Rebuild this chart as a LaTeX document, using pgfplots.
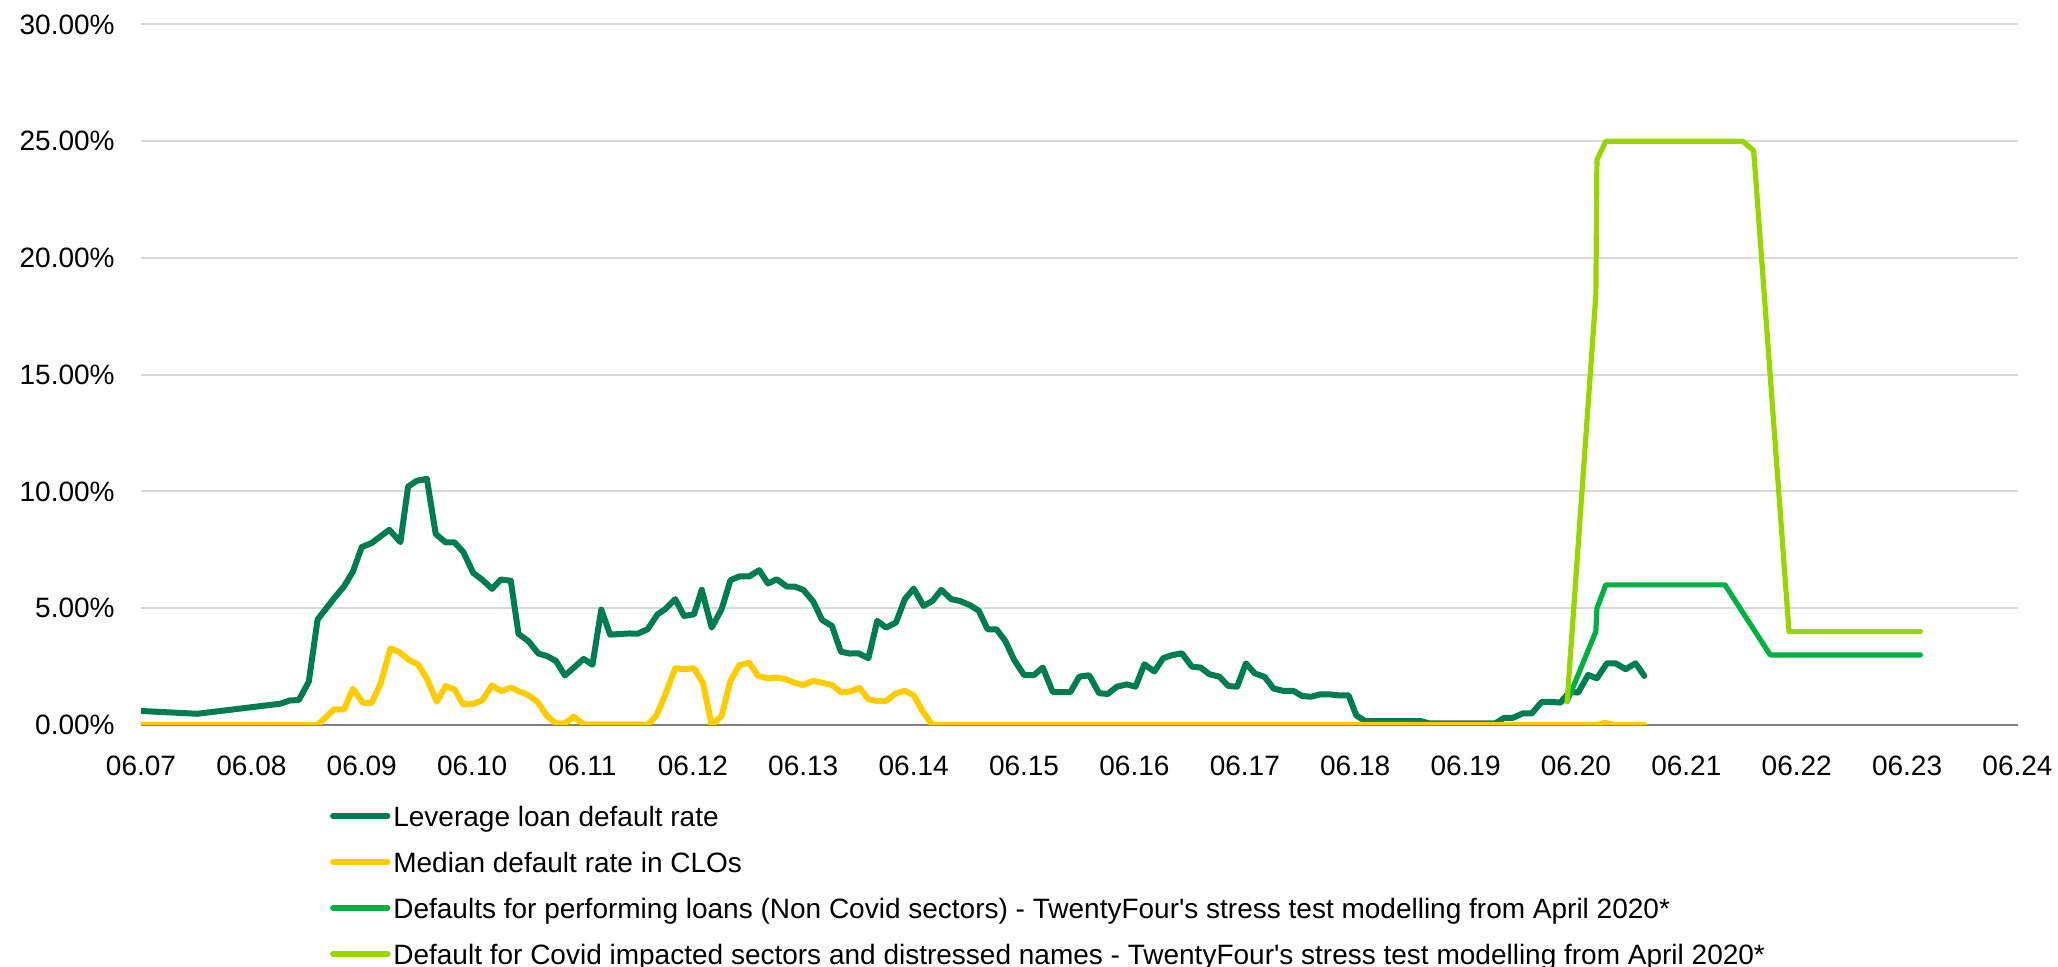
\documentclass[border=0pt]{standalone}
\usepackage{fontspec}
\setmainfont{Liberation Sans}[Ligatures=TeXOff]
\usepackage{pgfplots}
\pgfplotsset{compat=1.18}
\definecolor{levc}{RGB}{0,125,80}
\definecolor{cloc}{RGB}{255,204,0}
\definecolor{perfc}{RGB}{0,176,64}
\definecolor{covc}{RGB}{153,214,0}
\definecolor{gridc}{RGB}{217,217,217}
\definecolor{basec}{RGB}{128,128,128}
\begin{document}
\begin{tikzpicture}
\useasboundingbox (-70.5pt,-121pt) rectangle (958.5pt,362.5pt);
\begin{axis}[
  at={(0pt,0pt)}, anchor=south west,
  scale only axis, width=938.25pt, height=350.25pt,
  xmin=2007, xmax=2024, ymin=0, ymax=30,
  xtick={2007,2008,...,2024},
  xticklabels={06.07,06.08,06.09,06.10,06.11,06.12,06.13,06.14,06.15,06.16,06.17,06.18,06.19,06.20,06.21,06.22,06.23,06.24},
  ytick={0,5,...,30},
  yticklabel={\pgfmathprintnumber[fixed,fixed zerofill,precision=2]{\tick}\%},
  /pgf/number format/assume math mode=true,
  axis line style={draw=none},
  major tick length=0pt,
  ymajorgrids,
  grid style={draw=gridc, line width=1pt},
  extra y ticks={0}, extra y tick labels={},
  extra y tick style={grid style={draw=basec, line width=1pt}},
  tick label style={font=\fontsize{14}{17}\selectfont},
  xticklabel style={inner sep=0pt, anchor=north, yshift=-15.5pt},
  yticklabel style={inner sep=0pt, anchor=east, xshift=-13pt},
  legend style={at={(0.1008,-0.1071)}, anchor=north west, draw=none, fill=none,
    inner sep=0pt, outer sep=0pt, row sep=7pt, column sep=1.5pt,
    font=\fontsize{14}{17}\selectfont,
    nodes={inner sep=0pt, text height=13pt, text depth=3pt}},
  legend cell align=left,
  legend image code/.code={\draw[#1, line width=2.6pt, line cap=round] (0pt,0pt) -- (27.5pt,0pt);},
]
\addplot[levc, line width=3pt, line join=round, line cap=round] coordinates {
(2007.00,0.60) (2007.51,0.48) (2008.26,0.91) (2008.35,1.05) (2008.43,1.07)
(2008.52,1.85) (2008.60,4.52) (2008.75,5.43) (2008.84,5.94) (2008.92,6.57)
(2009.00,7.62) (2009.09,7.79) (2009.17,8.08) (2009.25,8.36) (2009.35,7.83)
(2009.42,10.21) (2009.50,10.46) (2009.59,10.54) (2009.67,8.18) (2009.76,7.82)
(2009.84,7.82) (2009.92,7.41) (2010.01,6.51) (2010.09,6.23) (2010.18,5.83)
(2010.26,6.23) (2010.35,6.18) (2010.42,3.90) (2010.51,3.59) (2010.60,3.06)
(2010.68,2.95) (2010.76,2.74) (2010.84,2.12) (2010.92,2.45) (2011.01,2.83)
(2011.09,2.58) (2011.17,4.94) (2011.25,3.87) (2011.42,3.92) (2011.50,3.91)
(2011.59,4.10) (2011.68,4.74) (2011.75,4.96) (2011.84,5.39) (2011.92,4.67)
(2012.01,4.74) (2012.08,5.79) (2012.17,4.17) (2012.26,4.96) (2012.34,6.20)
(2012.42,6.36) (2012.51,6.36) (2012.60,6.63) (2012.68,6.06) (2012.76,6.24)
(2012.85,5.93) (2012.92,5.93) (2013.00,5.79) (2013.09,5.29) (2013.17,4.50)
(2013.26,4.24) (2013.34,3.14) (2013.42,3.06) (2013.50,3.07) (2013.59,2.86)
(2013.67,4.46) (2013.75,4.17) (2013.84,4.39) (2013.92,5.39) (2014.00,5.84)
(2014.09,5.10) (2014.17,5.31) (2014.25,5.79) (2014.34,5.39) (2014.42,5.31)
(2014.51,5.13) (2014.59,4.89) (2014.67,4.10) (2014.75,4.10) (2014.83,3.60)
(2014.91,2.79) (2015.00,2.14) (2015.09,2.14) (2015.17,2.46) (2015.26,1.41)
(2015.42,1.41) (2015.50,2.07) (2015.59,2.13) (2015.68,1.36) (2015.76,1.33)
(2015.84,1.64) (2015.93,1.74) (2016.01,1.64) (2016.09,2.60) (2016.18,2.29)
(2016.26,2.86) (2016.34,2.99) (2016.43,3.07) (2016.52,2.50) (2016.60,2.46)
(2016.68,2.17) (2016.77,2.07) (2016.85,1.67) (2016.93,1.64) (2017.01,2.64)
(2017.09,2.21) (2017.18,2.06) (2017.26,1.56) (2017.35,1.46) (2017.44,1.46)
(2017.52,1.24) (2017.60,1.21) (2017.68,1.31) (2017.77,1.31) (2017.85,1.27)
(2017.94,1.27) (2018.01,0.41) (2018.09,0.17) (2018.59,0.17) (2018.67,0.07)
(2019.27,0.07) (2019.35,0.31) (2019.43,0.31) (2019.52,0.50) (2019.60,0.50)
(2019.69,0.99) (2019.77,0.99) (2019.86,0.96) (2019.94,1.41) (2020.02,1.39)
(2020.11,2.14) (2020.19,2.00) (2020.28,2.64) (2020.36,2.64) (2020.45,2.39)
(2020.54,2.64) (2020.62,2.10)
};
\addlegendentry{Leverage loan default rate}
\addplot[cloc, line width=3pt, line join=round, line cap=round] coordinates {
(2007.00,0) (2008.60,0) (2008.75,0.67) (2008.84,0.67) (2008.92,1.55)
(2009.01,0.95) (2009.09,0.95) (2009.17,1.77) (2009.26,3.28) (2009.34,3.12)
(2009.43,2.78) (2009.51,2.59) (2009.59,1.98) (2009.68,1.00) (2009.76,1.67)
(2009.84,1.52) (2009.92,0.88) (2010.01,0.91) (2010.09,1.05) (2010.18,1.70)
(2010.26,1.45) (2010.35,1.60) (2010.42,1.45) (2010.51,1.28) (2010.59,1.00)
(2010.68,0.38) (2010.76,0.07) (2010.84,0.07) (2010.92,0.36) (2011.01,0.03)
(2011.50,0.03) (2011.59,0) (2011.67,0.41) (2011.75,1.31) (2011.84,2.43)
(2011.92,2.39) (2012.01,2.43) (2012.09,1.81) (2012.17,0) (2012.26,0.39)
(2012.34,1.89) (2012.42,2.56) (2012.51,2.67) (2012.59,2.10) (2012.68,2.00)
(2012.76,2.03) (2012.84,1.96) (2012.92,1.81) (2013.00,1.71) (2013.09,1.89)
(2013.17,1.81) (2013.26,1.71) (2013.34,1.41) (2013.42,1.43) (2013.51,1.59)
(2013.59,1.10) (2013.67,1.03) (2013.75,1.03) (2013.84,1.36) (2013.92,1.46)
(2014.00,1.27) (2014.08,0.60) (2014.17,0) (2020.19,0) (2020.26,0.09)
(2020.36,0) (2020.62,0)
};
\addlegendentry{Median default rate in CLOs}
\addplot[perfc, line width=2.6pt, line join=round, line cap=round] coordinates {
(2019.92,1.0) (2020.18,4.0) (2020.19,5.0) (2020.27,6.0) (2021.35,6.0)
(2021.76,3.0) (2023.12,3.0)
};
\addlegendentry{Defaults for performing loans (Non Covid sectors) - TwentyFour's stress test modelling from April 2020*}
\addplot[covc, line width=2.6pt, line join=round, line cap=round] coordinates {
(2019.92,1.0) (2020.18,18.4) (2020.19,24.2) (2020.27,25.0) (2021.51,25.0)
(2021.61,24.6) (2021.93,4.0) (2023.12,4.0)
};
\addlegendentry{Default for Covid impacted sectors and distressed names - TwentyFour's stress test modelling from April 2020*}
\end{axis}
\end{tikzpicture}
\end{document}
